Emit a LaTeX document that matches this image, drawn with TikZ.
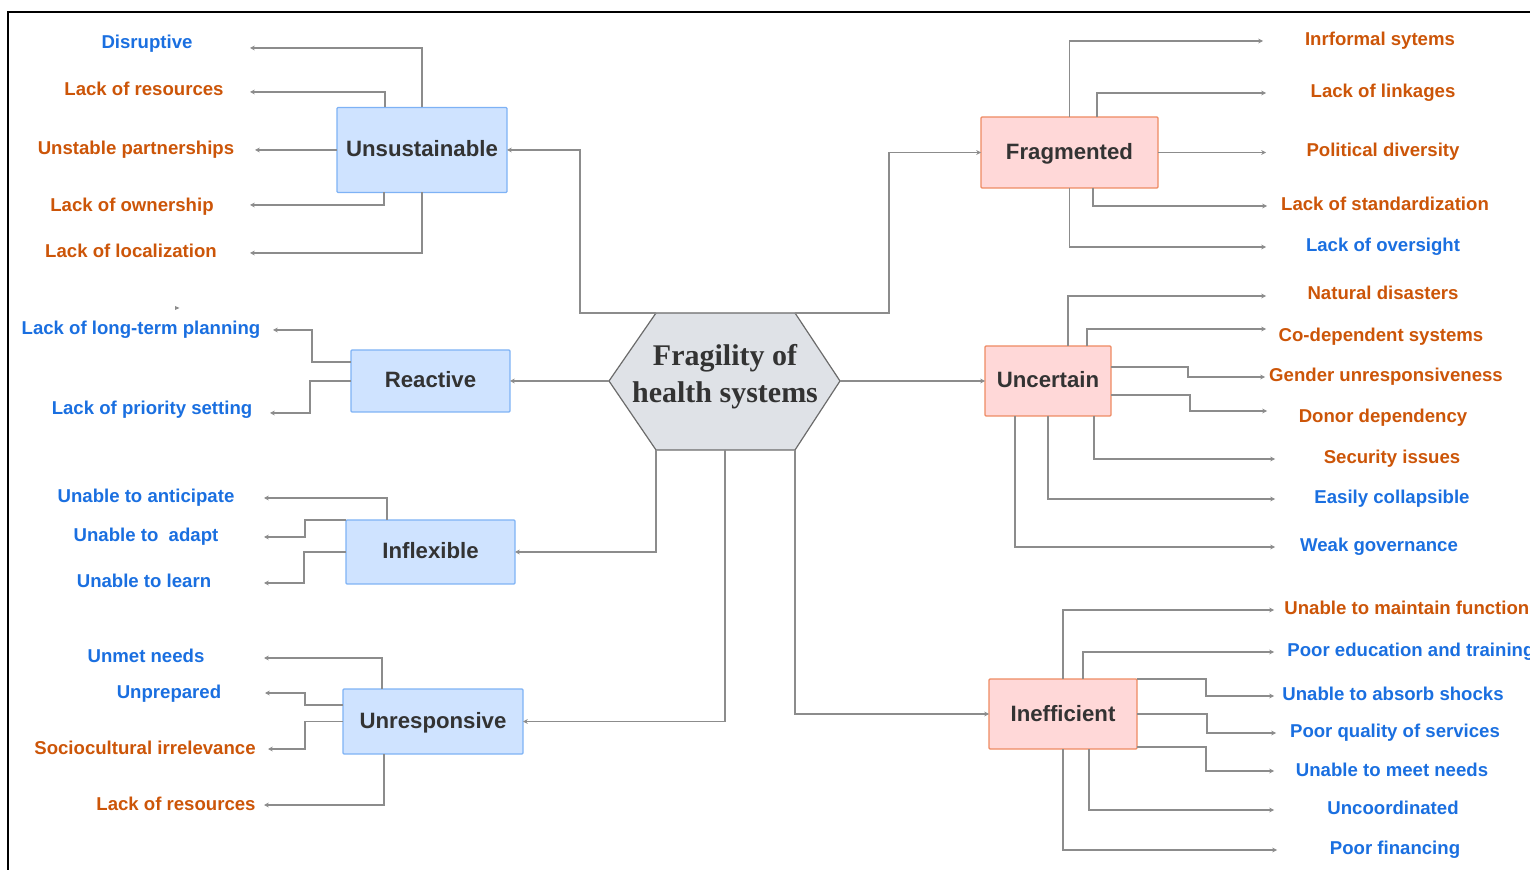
\documentclass[tikz,border=0pt]{standalone}
\usepackage{fontspec}
\setmainfont{Liberation Sans}
\newfontfamily\titlefont{Liberation Serif}
\usetikzlibrary{arrows.meta}

\definecolor{orangetxt}{HTML}{CC5508}
\definecolor{bluetxt}{HTML}{1A6FE0}
\definecolor{boxtxt}{HTML}{333333}
\definecolor{bluefill}{HTML}{CFE3FF}
\definecolor{blueedge}{HTML}{7EB2F5}
\definecolor{pinkfill}{HTML}{FFD8D8}
\definecolor{pinkedge}{HTML}{EE8A62}
\definecolor{linegray}{HTML}{8C8C8C}
\definecolor{hexfill}{HTML}{DFE2E7}
\definecolor{hexedge}{HTML}{6B6B6B}

\tikzset{
  lab/.style={font=\fontsize{9.3pt}{11pt}\selectfont\bfseries, inner sep=0pt,
              text height=0.75em, text depth=0.05em},
  olab/.style={lab, text=orangetxt},
  blab/.style={lab, text=bluetxt},
  catbox/.style={inner sep=0pt, outer sep=0pt, line width=0.6pt, rounded corners=0.5pt,
                 font=\fontsize{11.1pt}{13pt}\selectfont\bfseries, text=boxtxt,
                 text height=0.75em, text depth=0.05em},
  bluebox/.style={catbox, fill=bluefill, draw=blueedge},
  pinkbox/.style={catbox, fill=pinkfill, draw=pinkedge},
  conn/.style={draw=linegray, line width=0.75pt,
               -{Stealth[length=2.4pt,width=2.4pt]}},
}

\begin{document}
\begin{tikzpicture}[x=0.5pt,y=-0.5pt]
\useasboundingbox (0,0) rectangle (1530,870);
\clip (0,0) rectangle (1530,870);

% outer frame (top and left edges)
\draw[black, line width=1.3pt] (8,872) -- (8,12) -- (1532,12);

% central hexagon
\coordinate (h-l)  at (609,381);
\coordinate (h-tl) at (656,313);
\coordinate (h-tr) at (795,313);
\coordinate (h-r)  at (840,381);
\coordinate (h-br) at (795,450);
\coordinate (h-bl) at (656,450);
\coordinate (h-b)  at (725,450);
\fill[hexfill] (h-l) -- (h-tl) -- (h-tr) -- (h-r) -- (h-br) -- (h-bl) -- cycle;
\draw[hexedge, line width=0.6pt] (h-l) -- (h-tl) -- (h-tr) -- (h-r) -- (h-br) -- (h-bl) -- cycle;
\node[align=center, text=boxtxt, font=\titlefont\fontsize{15pt}{18.5pt}\selectfont\bfseries]
  (hub) at (725,377) {Fragility of\\health systems};

% category boxes
\node[bluebox, minimum width=85pt,   minimum height=42.5pt] (uns) at (422,150)     {Unsustainable};
\node[bluebox, minimum width=79.5pt, minimum height=31pt]   (rea) at (430.5,381)   {Reactive};
\node[bluebox, minimum width=84.5pt, minimum height=32pt]   (inf) at (430.5,552)   {Inflexible};
\node[bluebox, minimum width=90pt,   minimum height=32.5pt] (unr) at (433,721.5)   {Unresponsive};
\node[pinkbox, minimum width=88.5pt, minimum height=35.5pt] (fra) at (1069.5,152.5) {Fragmented};
\node[pinkbox, minimum width=63pt,   minimum height=35pt]   (unc) at (1048,381)    {Uncertain};
\node[pinkbox, minimum width=74pt,   minimum height=35pt]   (ine) at (1063,714)    {Inefficient};

% hub to categories
\draw[conn] (h-tl) -- (580,313) |- (uns.east);
\draw[conn] (h-l) -- (rea.east);
\draw[conn] (h-bl) |- (inf.east);
\draw[conn] (h-b) |- (unr.east);
\draw[conn] (h-tr) -- (889,313) |- (fra.west);
\draw[conn] (h-r) -- (unc.west);
\draw[conn] (h-br) |- (ine.west);

% ---------- Unsustainable ----------
\node[blab] (l-dis)  at (147,42)  {Disruptive};
\node[olab] (l-res1) at (144,89)  {Lack of resources};
\node[olab] (l-ups)  at (136,148) {Unstable partnerships};
\node[olab] (l-own)  at (132,205) {Lack of ownership};
\node[olab] (l-loc)  at (131,251) {Lack of localization};
\coordinate (t-dis)  at (250,48);
\coordinate (t-res1) at (250,92);
\coordinate (t-ups)  at (255,150);
\coordinate (t-own)  at (250,205);
\coordinate (t-loc)  at (250,253);
\draw[conn] (uns.north) |- (t-dis);
\draw[conn] (uns.north -| 385,0) |- (t-res1);
\draw[conn] (uns.west) -- (t-ups);
\draw[conn] (uns.south -| 384,0) |- (t-own);
\draw[conn] (uns.south) |- (t-loc);

% ---------- Reactive ----------
\node[blab] (l-ltp) at (141,328) {Lack of long-term planning};
\node[blab] (l-lps) at (152,408) {Lack of priority setting};
\coordinate (t-ltp) at (273,330);
\coordinate (t-lps) at (270,413);
\draw[conn] (rea.west |- 0,362) -| (312,330) -- (t-ltp);
\draw[conn] (rea.west) -| (310,413) -- (t-lps);
\fill[linegray] (175,306) -- (179.5,308) -- (175,310) -- cycle;

% ---------- Inflexible ----------
\node[blab] (l-ant) at (146,496) {Unable to anticipate};
\node[blab] (l-ada) at (146,535) {Unable to~ adapt};
\node[blab] (l-lea) at (144,581) {Unable to learn};
\coordinate (t-ant) at (264,498);
\coordinate (t-ada) at (264,537);
\coordinate (t-lea) at (264,583);
\draw[conn] (inf.north -| 387,0) |- (t-ant);
\draw[conn] (inf.north west) -| (305,537) -- (t-ada);
\draw[conn] (inf.west) -| (304,583) -- (t-lea);

% ---------- Unresponsive ----------
\node[blab] (l-unm)  at (146,655) {Unmet needs};
\node[blab] (l-unp)  at (169,691) {Unprepared};
\node[olab] (l-soc)  at (145,747) {Sociocultural irrelevance};
\node[olab] (l-res2) at (176,803) {Lack of resources};
\coordinate (t-unm)  at (264,658);
\coordinate (t-unp)  at (265,693);
\coordinate (t-soc)  at (268,749);
\coordinate (t-res2) at (264,805);
\draw[conn] (unr.north -| 382,0) |- (t-unm);
\draw[conn] (unr.west |- 0,705) -| (305,693) -- (t-unp);
\draw[conn] (unr.west) -| (305,749) -- (t-soc);
\draw[conn] (unr.south -| 384,0) |- (t-res2);

% ---------- Fragmented ----------
\node[olab] (l-inr) at (1380,39)  {Inrformal sytems};
\node[olab] (l-lin) at (1383,91)  {Lack of linkages};
\node[olab] (l-pol) at (1383,150) {Political diversity};
\node[olab] (l-std) at (1385,204) {Lack of standardization};
\node[blab] (l-ove) at (1383,245) {Lack of oversight};
\coordinate (t-inr) at (1263,41);
\coordinate (t-lin) at (1266,93);
\coordinate (t-pol) at (1266,152.5);
\coordinate (t-std) at (1267,206);
\coordinate (t-ove) at (1266,247);
\draw[conn] (fra.north) |- (t-inr);
\draw[conn] (fra.north -| 1097,0) |- (t-lin);
\draw[conn] (fra.east) -- (t-pol);
\draw[conn] (fra.south -| 1093,0) |- (t-std);
\draw[conn] (fra.south) |- (t-ove);

% ---------- Uncertain ----------
\node[olab] (l-nat) at (1383,293) {Natural disasters};
\node[olab] (l-cod) at (1381,335) {Co-dependent systems};
\node[olab] (l-gen) at (1386,375) {Gender unresponsiveness};
\node[olab] (l-don) at (1383,416) {Donor dependency};
\node[olab] (l-sec) at (1392,457) {Security issues};
\node[blab] (l-eas) at (1392,497) {Easily collapsible};
\node[blab] (l-wea) at (1379,545) {Weak governance};
\coordinate (t-nat) at (1266,296);
\coordinate (t-cod) at (1266,329);
\coordinate (t-gen) at (1265,377);
\coordinate (t-don) at (1267,411);
\coordinate (t-sec) at (1275,459);
\coordinate (t-eas) at (1275,499);
\coordinate (t-wea) at (1275,547);
\draw[conn] (unc.north -| 1068,0) |- (t-nat);
\draw[conn] (unc.north -| 1087,0) |- (t-cod);
\draw[conn] (unc.east |- 0,367) -| (1188,377) -- (t-gen);
\draw[conn] (unc.east |- 0,395) -| (1190,411) -- (t-don);
\draw[conn] (unc.south -| 1094,0) |- (t-sec);
\draw[conn] (unc.south) |- (t-eas);
\draw[conn] (unc.south -| 1015,0) |- (t-wea);

% ---------- Inefficient ----------
\node[olab, anchor=west] (l-mai) at (1284,608) {Unable to maintain function};
\node[blab, anchor=west] (l-edu) at (1287,649) {Poor education and training};
\node[blab] (l-abs) at (1393,693) {Unable to absorb shocks};
\node[blab] (l-qua) at (1395,730) {Poor quality of services};
\node[blab] (l-mee) at (1392,769) {Unable to meet needs};
\node[blab] (l-unc) at (1393,807) {Uncoordinated};
\node[blab] (l-fin) at (1395,847) {Poor financing};
\coordinate (t-mai) at (1274,610);
\coordinate (t-edu) at (1274,652);
\coordinate (t-abs) at (1274,696);
\coordinate (t-qua) at (1276,733);
\coordinate (t-mee) at (1274,771);
\coordinate (t-unc) at (1274,810);
\coordinate (t-fin) at (1277,850);
\draw[conn] (ine.north) |- (t-mai);
\draw[conn] (ine.north -| 1083,0) |- (t-edu);
\draw[conn] (ine.north east) -| (1206,696) -- (t-abs);
\draw[conn] (ine.east) -| (1207,733) -- (t-qua);
\draw[conn] (ine.east |- 0,747) -| (1206,771) -- (t-mee);
\draw[conn] (ine.south -| 1089,0) |- (t-unc);
\draw[conn] (ine.south) |- (t-fin);
\end{tikzpicture}
\end{document}
